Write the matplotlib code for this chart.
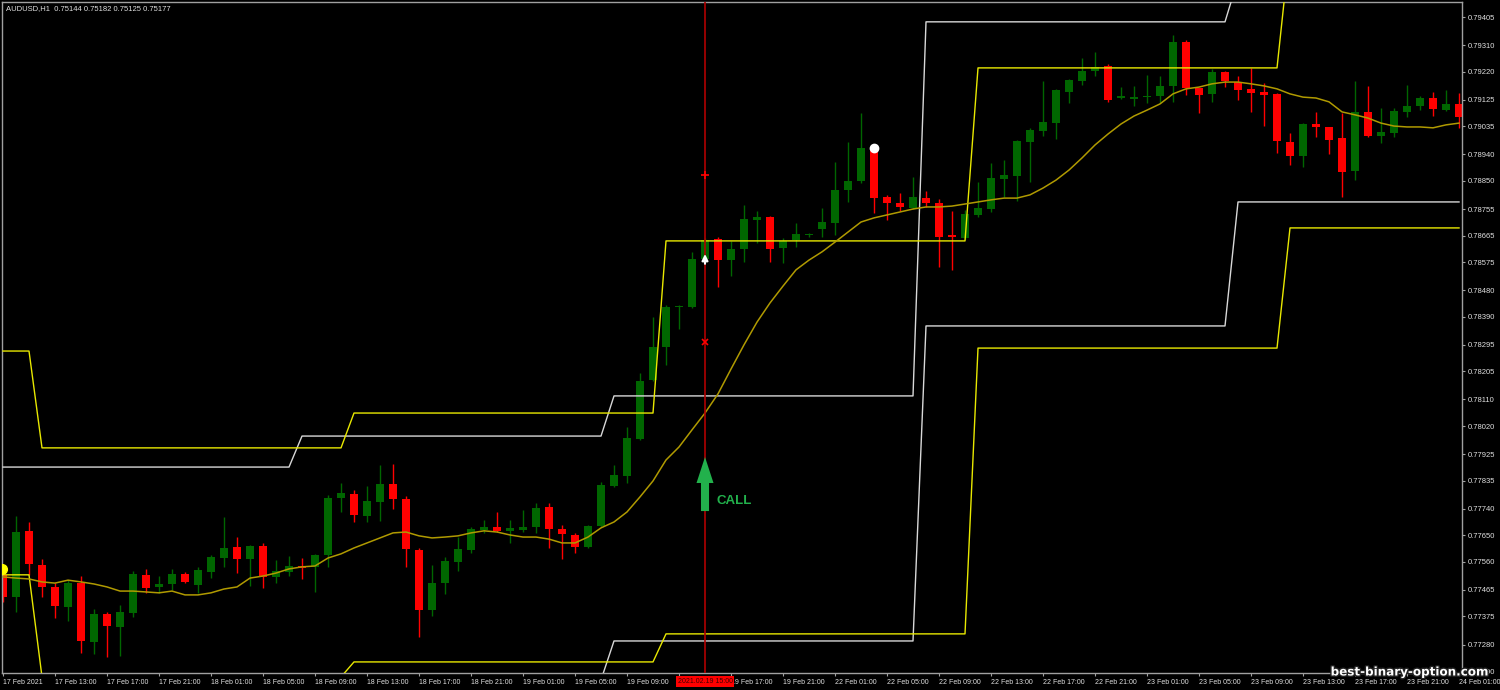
import numpy as np
import matplotlib
matplotlib.use('Agg')
import matplotlib.pyplot as plt
import matplotlib.patheffects as pe
from matplotlib.patches import FancyArrow
from matplotlib.transforms import blended_transform_factory

plt.rcParams['font.family'] = ['Liberation Sans', 'DejaVu Sans']

# AUDUSD H1 bars (17 Feb 09:00 .. 24 Feb 01:00)
opens = [0.77516, 0.77441, 0.77665, 0.77549, 0.77475, 0.77407, 0.77488, 0.77289, 0.77383, 0.77339,
         0.77387, 0.77516, 0.77475, 0.77485, 0.77519, 0.77482, 0.77526, 0.77573, 0.77610, 0.77570,
         0.77614, 0.77509, 0.77526, 0.77546, 0.77543, 0.77583, 0.77776, 0.77790, 0.77715, 0.77763,
         0.77824, 0.77773, 0.77600, 0.77397, 0.77488, 0.77560, 0.77600, 0.77668, 0.77678, 0.77665,
         0.77668, 0.77678, 0.77746, 0.77671, 0.77651, 0.77610, 0.77681, 0.77817, 0.77851, 0.77976,
         0.78176, 0.78288, 0.78423, 0.78423, 0.78586, 0.78654, 0.78582, 0.78620, 0.78718, 0.78728,
         0.78623, 0.78650, 0.78667, 0.78687, 0.78708, 0.78820, 0.78850, 0.78958, 0.78796, 0.78775,
         0.78759, 0.78792, 0.78775, 0.78667, 0.78657, 0.78735, 0.78755, 0.78857, 0.78867, 0.78983,
         0.79019, 0.79046, 0.79151, 0.79189, 0.79223, 0.79240, 0.79131, 0.79129, 0.79134, 0.79138,
         0.79172, 0.79321, 0.79165, 0.79145, 0.79219, 0.79185, 0.79162, 0.79151, 0.79145, 0.78983,
         0.78935, 0.79043, 0.79033, 0.78996, 0.78884, 0.79084, 0.79002, 0.79013, 0.79084, 0.79104,
         0.79131, 0.79090, 0.79111]
highs = [0.77526, 0.77715, 0.77695, 0.77570, 0.77488, 0.77498, 0.77512, 0.77400, 0.77390, 0.77414,
         0.77529, 0.77536, 0.77512, 0.77536, 0.77526, 0.77543, 0.77583, 0.77712, 0.77644, 0.77617,
         0.77624, 0.77566, 0.77580, 0.77573, 0.77587, 0.77786, 0.77827, 0.77803, 0.77817, 0.77888,
         0.77891, 0.77783, 0.77607, 0.77549, 0.77576, 0.77644, 0.77678, 0.77702, 0.77729, 0.77702,
         0.77736, 0.77759, 0.77759, 0.77685, 0.77658, 0.77685, 0.77831, 0.77888, 0.78017, 0.78200,
         0.78389, 0.78430, 0.78430, 0.78610, 0.78657, 0.78660, 0.78647, 0.78769, 0.78748, 0.78731,
         0.78657, 0.78708, 0.78674, 0.78759, 0.78914, 0.78982, 0.79080, 0.78969, 0.78803, 0.78809,
         0.78864, 0.78816, 0.78789, 0.78748, 0.78752, 0.78847, 0.78911, 0.78921, 0.78990, 0.79030,
         0.79189, 0.79162, 0.79195, 0.79267, 0.79287, 0.79246, 0.79168, 0.79172, 0.79209, 0.79206,
         0.79345, 0.79328, 0.79165, 0.79229, 0.79223, 0.79206, 0.79233, 0.79182, 0.79148, 0.79013,
         0.79046, 0.79084, 0.79033, 0.79080, 0.79189, 0.79172, 0.79097, 0.79097, 0.79175, 0.79138,
         0.79151, 0.79158, 0.79148]
lows = [0.77424, 0.77390, 0.77516, 0.77441, 0.77370, 0.77360, 0.77251, 0.77248, 0.77238, 0.77241,
        0.77373, 0.77455, 0.77455, 0.77465, 0.77488, 0.77455, 0.77505, 0.77543, 0.77522, 0.77478,
        0.77471, 0.77488, 0.77512, 0.77502, 0.77458, 0.77543, 0.77729, 0.77695, 0.77695, 0.77698,
        0.77739, 0.77543, 0.77306, 0.77377, 0.77451, 0.77529, 0.77590, 0.77658, 0.77661, 0.77624,
        0.77661, 0.77658, 0.77607, 0.77570, 0.77590, 0.77607, 0.77678, 0.77814, 0.77827, 0.77973,
        0.78173, 0.78227, 0.78349, 0.78420, 0.78576, 0.78491, 0.78528, 0.78576, 0.78640, 0.78576,
        0.78572, 0.78626, 0.78660, 0.78660, 0.78667, 0.78779, 0.78843, 0.78742, 0.78718, 0.78748,
        0.78755, 0.78762, 0.78559, 0.78549, 0.78654, 0.78728, 0.78745, 0.78796, 0.78782, 0.78847,
        0.79002, 0.78992, 0.79114, 0.79175, 0.79206, 0.79118, 0.79128, 0.79104, 0.79114, 0.79114,
        0.79118, 0.79141, 0.79080, 0.79118, 0.79168, 0.79124, 0.79084, 0.79036, 0.78945, 0.78904,
        0.78897, 0.78999, 0.78941, 0.78796, 0.78853, 0.78999, 0.78979, 0.78999, 0.79067, 0.79090,
        0.79070, 0.79087, 0.79030]
closes = [0.77441, 0.77661, 0.77553, 0.77475, 0.77411, 0.77488, 0.77292, 0.77383, 0.77343, 0.77390,
          0.77519, 0.77471, 0.77485, 0.77519, 0.77492, 0.77532, 0.77576, 0.77607, 0.77570, 0.77614,
          0.77509, 0.77529, 0.77546, 0.77539, 0.77583, 0.77776, 0.77793, 0.77719, 0.77766, 0.77824,
          0.77773, 0.77604, 0.77397, 0.77488, 0.77563, 0.77604, 0.77671, 0.77678, 0.77665, 0.77675,
          0.77678, 0.77742, 0.77671, 0.77654, 0.77610, 0.77681, 0.77820, 0.77854, 0.77980, 0.78173,
          0.78288, 0.78423, 0.78427, 0.78586, 0.78650, 0.78582, 0.78620, 0.78721, 0.78728, 0.78620,
          0.78647, 0.78670, 0.78670, 0.78711, 0.78820, 0.78850, 0.78962, 0.78792, 0.78775, 0.78762,
          0.78796, 0.78775, 0.78660, 0.78660, 0.78738, 0.78759, 0.78860, 0.78870, 0.78986, 0.79023,
          0.79050, 0.79158, 0.79192, 0.79223, 0.79236, 0.79124, 0.79138, 0.79134, 0.79138, 0.79172,
          0.79321, 0.79165, 0.79141, 0.79219, 0.79189, 0.79158, 0.79148, 0.79141, 0.78986, 0.78935,
          0.79043, 0.79033, 0.78990, 0.78880, 0.79084, 0.79002, 0.79016, 0.79087, 0.79104, 0.79131,
          0.79094, 0.79111, 0.79067]

# moving average line
ma = [0.77509, 0.77505, 0.77502, 0.77492, 0.77488, 0.77498, 0.77492, 0.77485, 0.77475, 0.77461,
      0.77461, 0.77458, 0.77455, 0.77461, 0.77448, 0.77448, 0.77455, 0.77468, 0.77475, 0.77505,
      0.77512, 0.77522, 0.77536, 0.77543, 0.77546, 0.77573, 0.77587, 0.77607, 0.77624, 0.77641,
      0.77658, 0.77661, 0.77648, 0.77641, 0.77644, 0.77648, 0.77658, 0.77665, 0.77661, 0.77651,
      0.77644, 0.77644, 0.77637, 0.77624, 0.77624, 0.77644, 0.77675, 0.77695, 0.77729, 0.77780,
      0.77834, 0.77905, 0.77949, 0.78007, 0.78064, 0.78129, 0.78213, 0.78295, 0.78372, 0.78437,
      0.78494, 0.78549, 0.78582, 0.78610, 0.78643, 0.78677, 0.78711, 0.78725, 0.78735, 0.78745,
      0.78755, 0.78762, 0.78762, 0.78765, 0.78772, 0.78779, 0.78786, 0.78792, 0.78792, 0.78803,
      0.78826, 0.78853, 0.78887, 0.78928, 0.78972, 0.79009, 0.79043, 0.79070, 0.79090, 0.79111,
      0.79145, 0.79162, 0.79168, 0.79179, 0.79185, 0.79185, 0.79179, 0.79172, 0.79162, 0.79145,
      0.79134, 0.79131, 0.79118, 0.79084, 0.79074, 0.79063, 0.79046, 0.79036, 0.79033, 0.79033,
      0.79030, 0.79040, 0.79046]

# daily channel levels (level, number of bars it holds)
yellow_hi_levels = [0.78274, 0.77946, 0.78064, 0.78647, 0.79233, 0.79646]
yellow_lo_levels = [0.77516, 0.77170, 0.77221, 0.77316, 0.78284, 0.78691]
yellow_runs = [3, 24, 24, 24, 24, 14]
white_hi_levels = [0.77881, 0.77986, 0.78122, 0.79389, 0.79534]
white_lo_levels = [0.77000, 0.77160, 0.77292, 0.78359, 0.78779]
white_runs = [23, 24, 24, 24, 18]

# every 4th bar; the 19 Feb 13:00 slot sits under the red time box
time_labels = ['17 Feb 2021', '17 Feb 13:00', '17 Feb 17:00', '17 Feb 21:00', '18 Feb 01:00',
               '18 Feb 05:00', '18 Feb 09:00', '18 Feb 13:00', '18 Feb 17:00', '18 Feb 21:00',
               '19 Feb 01:00', '19 Feb 05:00', '19 Feb 09:00', '', '19 Feb 17:00',
               '19 Feb 21:00', '22 Feb 01:00', '22 Feb 05:00', '22 Feb 09:00', '22 Feb 13:00',
               '22 Feb 17:00', '22 Feb 21:00', '23 Feb 01:00', '23 Feb 05:00', '23 Feb 09:00',
               '23 Feb 13:00', '23 Feb 17:00', '23 Feb 21:00', '24 Feb 01:00']
price_ticks = [0.79405, 0.79310, 0.79220, 0.79125, 0.79035, 0.78940, 0.78850, 0.78755, 0.78665,
               0.78575, 0.78480, 0.78390, 0.78295, 0.78205, 0.78110, 0.78020, 0.77925, 0.77835,
               0.77740, 0.77650, 0.77560, 0.77465, 0.77375, 0.77280, 0.77190]

title = 'AUDUSD,H1  0.75144 0.75182 0.75125 0.75177'
signal_bar = 54
signal_time = '2021.02.19 15:00'
bull = '#006600'
bear = '#ff0000'

o = np.array(opens); h = np.array(highs); l = np.array(lows); c = np.array(closes)
bars = np.arange(len(o))
cols = np.where(c >= o, bull, bear)

fig = plt.figure(figsize=(15, 6.9), dpi=100, facecolor='black')
ax = fig.add_axes([2/1500, 17/690, 1460/1500, 671/690])
ax.set_facecolor('black')

ax.vlines(bars, l, h, colors=cols, lw=1, zorder=2)
ax.bar(bars, np.maximum(np.abs(c - o), 0.00003), bottom=np.minimum(o, c), width=0.69,
       color=cols, linewidth=0, zorder=2)

ax.plot(bars, np.repeat(white_hi_levels, white_runs), color='#d8d8d8', lw=1, zorder=3)
ax.plot(bars, np.repeat(white_lo_levels, white_runs), color='#d8d8d8', lw=1, zorder=3)
ax.plot(bars, np.repeat(yellow_hi_levels, yellow_runs), color='#e8e800', lw=1, zorder=3)
ax.plot(bars, np.repeat(yellow_lo_levels, yellow_runs), color='#e8e800', lw=1, zorder=3)
ax.plot(bars, ma, color='#b09a00', lw=1.1, zorder=3)

# signal marks
ax.axvline(signal_bar, color='#b00000', lw=1.2, zorder=4)
ax.plot(signal_bar, 0.78870, marker='+', color='red', ms=6, mew=1.2, zorder=5)
ax.plot(signal_bar, 0.78305, marker='x', color='red', ms=4, mew=1.2, zorder=5)
ax.annotate('', xy=(signal_bar, 0.78612), xytext=(signal_bar, 0.78560),
            arrowprops=dict(arrowstyle='-|>', color='white', lw=1.5, mutation_scale=9), zorder=6)
ax.plot(67, 0.78962, 'o', color='white', ms=6, zorder=6)
ax.plot(-0.05, 0.77536, 'o', color='yellow', ms=7, zorder=6)
ax.add_patch(FancyArrow(signal_bar, 0.77732, 0, 0.77915 - 0.77732, width=0.62, head_width=1.31,
                        head_length=0.00088, length_includes_head=True, color='#22b14c',
                        lw=0, zorder=7))
ax.text(signal_bar + 0.9, 0.77766, 'CALL', color='#22b14c', fontsize=9.5, fontweight='bold',
        va='center', ha='left', zorder=7)

ax.set_xlim(-0.077, 112.23)
ax.set_ylim(0.771835, 0.794562)

ax.set_xticks(np.arange(0, 4*len(time_labels), 4))
ax.set_xticklabels(time_labels, ha='left', fontsize=5, color='#e0e0e0')
ax.yaxis.tick_right()
ax.set_yticks(price_ticks)
ax.set_yticklabels(['%.5f' % p for p in price_ticks], fontsize=5.5, color='#e0e0e0')
ax.tick_params(axis='x', length=2.5, width=0.8, color='#a0a0a0', pad=1.5)
ax.tick_params(axis='y', length=2.5, width=0.8, color='#a0a0a0', pad=1.5)
for s in ax.spines.values():
    s.set_color('#a0a0a0')
    s.set_linewidth(1)

trans = blended_transform_factory(ax.transData, ax.transAxes)
ax.text(signal_bar, -0.0125, signal_time, transform=trans, ha='center', va='center',
        fontsize=5, color='#400000', clip_on=False, zorder=10,
        bbox=dict(boxstyle='square,pad=0.25', fc='red', ec='none'))

fig.text(6/1500, 1 - 9/690, title, fontsize=5.5, color='#e0e0e0', va='center', ha='left')
fig.text(1409/1500, 1 - 672/690, 'best-binary-option.com', fontsize=8.6, fontweight='bold',
         family='DejaVu Sans', color='white', ha='center', va='center',
         path_effects=[pe.withStroke(linewidth=2, foreground='#222222')])

fig.savefig('out.png', dpi=100, facecolor='black')
